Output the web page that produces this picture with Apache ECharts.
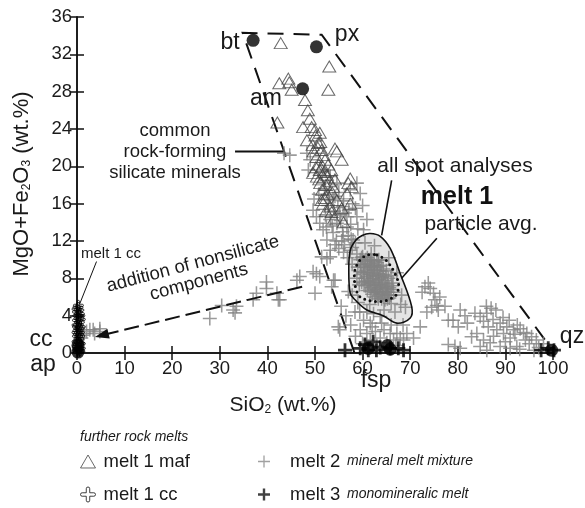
<!DOCTYPE html>
<html><head><meta charset="utf-8">
<script src="https://cdn.jsdelivr.net/npm/echarts@6/dist/echarts.min.js"></script>
<style>html,body{margin:0;padding:0;background:#fff}#c{width:585px;height:508px}</style>
</head><body><div id="c"></div><script>
// ---------------- data (wt.%: [SiO2, MgO+Fe2O3]) ----------------
const xTicks = [0,10,20,30,40,50,60,70,80,90,100];
const yTicks = [0,4,8,12,16,20,24,28,32,36];

const melt1Maf = [
 [42.8,33.2],[53.0,30.7],[52.8,28.2],[42.5,28.9],[44.4,29.4],[44.6,29.0],[45.1,28.2],[47.9,27.1],
 [48.5,26.0],[48.9,25.1],[42.1,24.7],[47.5,24.2],[49.3,24.2],[50.0,23.9],[48.3,22.8],[51.1,22.6],
 [50.7,22.5],[51.4,21.75],[54.2,21.9],[54.6,21.6],[55.6,20.7],[52.1,20.7],[51.0,19.6],[50.4,18.9],
 [52.5,19.1],[49.6,19.3],[57.4,18.7],[53.8,17.8],[51.1,18.2],[57.7,17.8],[56.7,17.1],[57.4,16.0],
 [54.6,16.4],[55.6,15.5],[53.2,15.7],[51.7,16.0],[53.5,15.1],[51.4,16.4],[50.2,19.9],[50.8,20.2],
 [51.6,20.0],[52.0,19.4],[50.9,18.6],[51.5,17.5],[52.6,17.0],[53.0,18.4],[50.3,21.0],[49.7,21.6],
 [52.3,15.2],[54.0,14.4],[56.0,14.0],[57.0,18.2],[50.1,23.3],[51.0,23.6],[49.5,22.3],[50.6,22.0],
 [51.8,21.2],[52.8,20.2],[53.4,19.6],[51.8,18.8],[52.3,18.0],[54.2,18.6],[53.6,17.2],[52.0,16.6]
];

const melt1Cc = [
 [0.2,4.9],[0.4,4.6],[0.1,4.4],[0.5,4.2],[0.2,4.0],[0.4,3.7],[0.1,3.5],[0.5,3.3],[0.3,3.0],[0.1,2.8],
 [0.4,2.6],[0.2,2.4],[0.5,2.2],[0.3,2.0],[0.1,1.8],[0.4,1.5],[0.2,1.3],[0.5,1.1],[0.3,0.9],[0.1,0.7],
 [0.4,0.5],[0.2,0.3],[0.6,0.2],[0.3,0.1],[0.6,1.8],[0.0,3.0],[0.6,4.0],[0.0,4.7],[0.3,5.1],
 [0.7,2.8],[0.7,3.6],[0.0,2.2],[0.0,1.2],[0.7,1.0],[0.7,0.5]
];

const melt2 = [
 // near origin
 [1.2,1.9],[1.5,2.1],[2.0,2.3],[2.7,2.5],[3.4,2.5],[3.7,2.1],[4.8,2.6],[4.8,2.3],[0.9,1.6],
 // nonsilicate branch
 [27.9,3.7],[30.4,5.1],[32.8,4.6],[33.5,5.0],[33.2,4.3],[37.0,5.7],[37.7,6.4],[39.8,6.9],[39.8,7.6],
 [42.3,5.7],[42.0,6.4],[42.6,5.7],[46.2,7.8],[46.8,8.2],[49.6,8.7],[50.3,8.5],[51.0,8.2],[50.0,6.4],
 [53.2,10.3],[53.5,7.1],[53.9,7.8],[57.0,6.6],[52.5,10.1],[54.2,7.8],
 // main ridge
 [44.7,21.2],[43.5,21.4],[48.3,21.4],[49.0,20.7],[48.6,19.6],[53.2,18.9],[54.6,18.2],[57.4,17.5],
 [58.8,18.2],[59.5,17.1],[53.8,16.4],[55.9,15.7],[57.9,16.0],[56.7,14.6],[58.8,14.6],[49.6,15.3],
 [50.3,14.6],[51.0,13.9],[53.2,14.3],[54.6,13.9],[56.7,13.5],[51.7,13.2],[53.8,12.9],[55.9,12.5],
 [58.0,12.1],[60.2,13.2],[60.9,14.3],[52.5,12.1],[53.2,11.0],[51.4,10.3],[57.4,11.0],[58.8,10.6],
 [52.0,17.5],[53.0,17.0],[54.2,16.8],[55.0,17.2],[52.8,15.8],[54.0,15.2],[55.2,14.8],[52.2,14.8],
 [55.8,13.0],[57.0,12.6],[54.5,12.0],[56.2,11.6],[55.0,11.2],[56.8,10.2],[57.8,9.5],[50.8,17.0],
 [49.8,16.5],[58.5,15.5],[60.0,15.8],[57.5,13.8],[59.0,13.3],[53.6,13.6],[55.4,14.2],[56.3,15.0],
 [54.8,15.6],[56.0,16.3],[57.1,15.3],[55.6,12.0],[57.6,12.2],[54.2,11.6],[56.0,10.8],[52.4,13.5],
 // particle cloud
 [59.5,10.0],[60.0,10.3],[60.5,9.8],[61.0,10.2],[61.5,9.6],[62.0,9.9],[62.5,9.4],[63.0,9.7],[60.2,9.2],
 [60.8,8.8],[61.4,9.0],[62.0,8.6],[62.6,8.9],[63.2,8.5],[63.8,8.8],[64.4,8.4],[59.8,8.4],[60.4,8.0],
 [61.0,8.2],[61.6,7.8],[62.2,8.0],[62.8,7.6],[63.4,7.9],[64.0,7.5],[64.6,7.8],[65.2,7.4],[60.6,7.2],
 [61.2,7.4],[61.8,7.0],[62.4,7.2],[63.0,6.8],[63.6,7.0],[64.2,6.6],[64.8,6.9],[65.4,6.5],[66.0,6.8],
 [62.0,6.3],[62.6,6.5],[63.2,6.1],[63.8,6.4],[64.4,6.0],[65.0,6.2],[65.6,5.9],[59.0,9.2],[58.8,8.0],
 [59.3,7.3],[66.4,7.5],[66.0,8.3],[65.0,8.8],[64.0,9.4],[63.4,10.0],[61.8,10.6],
 [59.8,10.2],[60.7,10.0],[61.6,10.0],[62.4,9.8],[63.3,9.9],[59.6,9.5],[60.5,9.4],[61.1,9.5],[61.8,9.3],
 [62.3,9.2],[63.1,9.2],[63.6,9.3],[64.3,9.0],[59.5,8.7],[60.2,8.6],[61.1,8.6],[61.7,8.4],[62.3,8.3],
 [62.9,8.3],[63.5,8.2],[64.1,8.1],[64.8,8.2],[65.4,8.0],[59.8,7.6],[60.3,7.5],[60.9,7.7],[61.4,7.6],
 [62.0,7.5],[62.6,7.3],[63.2,7.3],[63.8,7.3],[64.3,7.1],[65.0,7.1],[65.6,7.0],[66.2,7.2],[61.0,6.7],
 [61.6,6.6],[62.3,6.8],[62.9,6.5],[63.5,6.6],[64.1,6.3],[64.7,6.5],[65.3,6.2],[65.9,6.2],[66.5,6.5],
 [62.6,6.0],[63.3,5.8],[64.0,5.8],[64.7,5.7],[65.2,5.8],
 [58.5,11.8],[57.8,11.3],[60.5,11.8],[62.5,11.5],[65.5,10.2],[67.2,8.6],[68.2,6.2],[69.0,4.9],
 [66.8,4.4],[64.5,4.6],[61.5,5.2],[59.0,5.4],[57.8,6.2],[66.0,5.3],[68.0,5.2],
 // near fsp
 [58.4,4.4],[59.4,4.4],[60.9,4.4],[62.3,4.2],[63.7,3.9],[54.9,2.8],[55.2,2.5],[60.2,3.5],[61.6,3.2],
 [59.5,2.5],[60.9,2.1],[62.7,2.3],[64.5,2.5],[65.8,2.1],[67.2,2.1],[63.7,1.6],[61.6,1.4],[65.1,1.1],
 [66.5,1.4],[67.9,1.6],[69.3,2.1],[58.5,1.8],[60.0,1.0],[63.0,0.8],[67.0,0.8],[68.6,1.4],[70.7,1.6],
 [62.0,2.8],[66.0,3.0],[64.0,3.2],[56.5,4.0],[55.5,5.0],[57.5,3.0],[68.5,3.0],
 // right branch
 [73.1,7.1],[74.2,6.9],[74.9,6.4],[75.2,5.7],[75.6,5.1],[74.5,4.9],[73.5,4.4],[75.9,4.6],[77.3,5.0],
 [80.5,4.6],[78.0,3.5],[80.1,2.8],[78.0,0.9],[79.4,0.7],[80.5,0.5],[72.1,2.8],[72.5,6.5],[73.8,7.5],
 [76.2,6.0],[79.0,3.5],
 // quartz cluster
 [83.6,4.25],[84.7,3.9],[86.1,4.25],[85.4,3.4],[86.4,2.8],[87.4,3.6],[88.9,3.2],[90.3,2.8],[91.7,2.5],
 [93.1,2.6],[94.5,2.1],[95.5,1.75],[96.5,1.4],[84.0,2.1],[85.4,1.4],[86.8,1.1],[88.9,0.7],[91.0,0.5],
 [92.4,0.7],[87.5,1.8],[89.6,2.1],[91.0,1.6],[94.2,1.4],[86.1,0.3],[82.9,1.75],[84.7,0.7],[88.0,4.6],
 [89.5,3.8],[90.8,3.5],[92.5,3.0],[93.8,2.2],[95.0,1.0],[97.0,0.6],[98.0,1.0],[88.2,2.5],[90.0,1.2],
 [93.0,0.4],[96.0,0.3],[86.0,5.0],[87.0,4.8],[92.0,2.0],[82.0,3.2],[81.5,4.0]
];

const melt3 = [
 [56.3,0.3],[59.5,0.5],[61.2,0.3],[62.2,1.2],[62.9,0.3],[63.7,0.6],[65.8,0.5],[67.5,0.5],[68.6,0.3],
 [60.5,0.9],[97.5,0.3],[99.0,0.5],[100.2,0.3]
];

// end-member minerals: bt, px, am, fsp, qz, cc, ap
const minerals = [
 [37.0,33.5],[50.3,32.8],[47.4,28.3],[65.2,0.8],[65.8,0.4],[61.2,0.5],[99.7,0.3],[0.2,0.8],[0.2,0.1]
];

// ---------------- annotation geometry (data coordinates) ----------------
const silicateField = [[58.3,0.0],[34.8,34.3],[51.4,34.1],[99.6,0.5]];
const allSpotOutline = [[61.6,12.8],[63.7,12.5],[65.8,11.2],[67.9,8.5],[70.3,5.0],[70.0,3.75],[67.2,3.2],
  [64.3,4.0],[60.9,4.6],[58.4,5.7],[57.4,6.4],[57.1,8.9],[57.4,11.0],[58.6,12.1],[59.9,12.6]];
const particleAvgOutline = [[63.0,10.5],[65.3,9.75],[67.5,7.6],[67.0,6.2],[63.7,5.5],[59.5,6.0],
  [58.4,7.3],[58.4,8.9],[59.5,10.0],[61.1,10.5]];
const nonsilicateArrow = [[47.3,7.1],[5.2,1.9]];
const leaderCommon = [[33.2,21.6],[43.3,21.6]];
const leaderCc = [[4.1,9.8],[0.6,5.3]];
const leaderAllSpot = [[66.1,18.5],[64.0,12.6]];
const leaderParticle = [[75.6,12.3],[68.2,8.0]];

// ---------------- chart ----------------
const FONT = "'Liberation Sans', Arial, sans-serif";
const TRI = 'path://M5,0L10,8.66L0,8.66Z';
const PLUS_THIN = 'path://M4.45,0h1.1v10h-1.1z M0,4.45h10v1.1h-10z';
const PLUS_BOLD = 'path://M4,0h2v10h-2z M0,4h10v2h-10z';
const CLOVER = 'path://M3.5,0A1.5,1.5 0 0 1 6.5,0L6.5,3.5L10,3.5A1.5,1.5 0 0 1 10,6.5L6.5,6.5L6.5,10A1.5,1.5 0 0 1 3.5,10L3.5,6.5L0,6.5A1.5,1.5 0 0 1 0,3.5L3.5,3.5Z';
const INK = '#1a1a1a';

function shape(points, style, z, kind, smooth) {
  return {
    type: 'custom', silent: true, z: z, clip: false, data: [points[0]],
    renderItem: function (params, api) {
      return { type: kind, shape: { points: points.map(p => api.coord(p)), smooth: smooth || 0 }, style: style };
    }
  };
}
function leader(points, width) {
  return { type: 'line', data: points, symbol: 'none', silent: true, z: 6,
    lineStyle: { color: '#111', width: width }, clip: false };
}
function label(text, x, y, size, extra) {
  return { type: 'text', x: x, y: y, z: 10,
    style: Object.assign({ text: text, fontSize: size, fontFamily: FONT, fill: INK, align: 'center', verticalAlign: 'middle' }, extra || {}) };
}

const axisCommon = {
  type: 'value', splitLine: { show: false },
  axisLine: { lineStyle: { color: '#111', width: 1.5 } },
  axisTick: { inside: true, length: 7, lineStyle: { color: '#111', width: 1.5 } }
};
const legendRich = (extra) => ({ rich: Object.assign({
  m: { fontSize: 18.5, color: INK, fontFamily: FONT, padding: [0,0,0,3] },
  n: { fontSize: 18.5, color: INK, fontFamily: FONT, padding: [0,0,0,15] },
  i: { fontSize: 14, fontStyle: 'italic', color: INK, fontFamily: FONT } }, extra || {}) });

const chart = echarts.init(document.getElementById('c'), null, { renderer: 'canvas' });
chart.setOption({
  animation: false,
  backgroundColor: '#fff',
  grid: { left: 77, top: 17, right: 32, bottom: 155 },
  xAxis: [
    Object.assign({}, axisCommon, { min: xTicks[0], max: xTicks[xTicks.length - 1], interval: xTicks[1] - xTicks[0],
      axisLabel: { fontSize: 18.5, color: INK, fontFamily: FONT, margin: 6 } }),
    Object.assign({}, axisCommon, { position: 'top', min: xTicks[0], max: xTicks[xTicks.length - 1],
      interval: xTicks[1] - xTicks[0], axisLabel: { show: false } })
  ],
  yAxis: [
    Object.assign({}, axisCommon, { min: yTicks[0], max: yTicks[yTicks.length - 1], interval: yTicks[1] - yTicks[0],
      axisLabel: { fontSize: 18.5, color: INK, fontFamily: FONT, margin: 5 } }),
    Object.assign({}, axisCommon, { position: 'right', min: yTicks[0], max: yTicks[yTicks.length - 1],
      interval: yTicks[1] - yTicks[0], axisLabel: { show: false } })
  ],
  legend: [
    { left: 80, top: 452, padding: 0, itemWidth: 15, itemHeight: 13, selectedMode: false,
      data: [{ name: 'melt 1 maf', icon: TRI, itemStyle: { color: 'rgba(0,0,0,0)', borderColor: '#444', borderWidth: 1 } }],
      formatter: '{m|{name}}', textStyle: legendRich() },
    { left: 80, top: 485, padding: 0, itemWidth: 15, itemHeight: 15, selectedMode: false,
      data: [{ name: 'melt 1 cc', icon: CLOVER, itemStyle: { color: 'rgba(0,0,0,0)', borderColor: '#111', borderWidth: 1 } }],
      formatter: '{m|{name}}', textStyle: legendRich() },
    { left: 258, top: 452, padding: 0, itemWidth: 12, itemHeight: 12, selectedMode: false,
      data: [{ name: 'melt 2', icon: PLUS_THIN, itemStyle: { color: '#8a8a8a' } }],
      formatter: '{n|{name}}  {i|mineral melt mixture}', textStyle: legendRich() },
    { left: 258, top: 485, padding: 0, itemWidth: 12, itemHeight: 12, selectedMode: false,
      data: [{ name: 'melt 3', icon: PLUS_BOLD, itemStyle: { color: '#111' } }],
      formatter: '{n|{name}}  {i|monomineralic melt}', textStyle: legendRich() }
  ],
  series: [
    shape(allSpotOutline, { fill: '#e4e4e4', stroke: 'none' }, 1, 'polygon', 0.35),
    shape(silicateField, { fill: 'none', stroke: '#111', lineWidth: 2, lineDash: [16, 10] }, 2, 'polyline'),
    { name: 'melt 2', type: 'scatter', data: melt2, symbol: PLUS_THIN, symbolSize: 14, z: 3, clip: false,
      itemStyle: { color: '#828282' } },
    { name: 'melt 1 maf', type: 'scatter', data: melt1Maf, symbol: TRI, symbolSize: [13, 11], z: 4, clip: false,
      itemStyle: { color: 'rgba(0,0,0,0)', borderColor: '#444', borderWidth: 1 } },
    { name: 'melt 1 cc', type: 'scatter', data: melt1Cc, symbol: CLOVER, symbolSize: 10, z: 4, clip: false,
      itemStyle: { color: 'rgba(0,0,0,0)', borderColor: '#000', borderWidth: 1 } },
    { name: 'melt 3', type: 'scatter', data: melt3, symbol: PLUS_BOLD, symbolSize: 14, z: 5, clip: false,
      itemStyle: { color: '#000' } },
    { name: 'minerals', type: 'scatter', data: minerals, symbol: 'circle', symbolSize: 13, z: 6, clip: false,
      itemStyle: { color: '#000' } },
    shape(allSpotOutline, { fill: 'none', stroke: '#111', lineWidth: 1.6 }, 7, 'polygon', 0.35),
    shape(particleAvgOutline, { fill: 'none', stroke: '#111', lineWidth: 3, lineDash: [0, 5.5], lineCap: 'round' }, 7, 'polygon', 0.3),
    leader(leaderCommon, 2), leader(leaderCc, 1), leader(leaderAllSpot, 1.6), leader(leaderParticle, 1.6),
    { type: 'line', data: [], silent: true, z: 6,
      markLine: { silent: true, symbol: ['none', 'triangle'], symbolSize: [10, 14], animation: false,
        label: { show: false }, lineStyle: { type: [15, 6], color: '#111', width: 2 },
        data: [[{ coord: nonsilicateArrow[0] }, { coord: nonsilicateArrow[1] }]] } }
  ],
  graphic: [
    { type: 'text', x: 22, y: 184, rotation: Math.PI / 2, z: 10,
      style: { text: 'MgO+Fe{s|2}O{s|3} (wt.%)', fontSize: 22, fontFamily: FONT, fill: INK, align: 'center', verticalAlign: 'middle',
        rich: { s: { fontSize: 12, fontFamily: FONT, fill: INK, verticalAlign: 'bottom', padding: [8, 0, 0, 0] } } } },
    { type: 'text', x: 283, y: 405, z: 10,
      style: { text: 'SiO{s|2} (wt.%)', fontSize: 21, fontFamily: FONT, fill: INK, align: 'center', verticalAlign: 'middle',
        rich: { s: { fontSize: 12, fontFamily: FONT, fill: INK, verticalAlign: 'bottom', padding: [8, 0, 0, 0] } } } },
    label('further rock melts', 80, 437, 14, { fontStyle: 'italic', align: 'left' }),
    label('bt', 230, 43, 23), label('px', 347, 35, 23), label('am', 266, 99, 23),
    label('cc', 41, 340, 23), label('ap', 43, 365, 23), label('qz', 572, 337, 23), label('fsp', 376, 381, 23),
    label('common', 175, 131, 18.5), label('rock-forming', 175, 152, 18.5), label('silicate minerals', 175, 173, 18.5),
    label('all spot analyses', 455, 166, 21), label('melt 1', 457, 197, 25, { fontWeight: 'bold', fill: '#111' }),
    label('particle avg.', 481, 224, 21), label('melt 1 cc', 111, 254, 15),
    Object.assign(label('addition of nonsilicate', 193, 264, 18.5), { rotation: 0.26 }),
    Object.assign(label('components', 199, 282, 18.5), { rotation: 0.26 })
  ]
});
</script></body></html>
